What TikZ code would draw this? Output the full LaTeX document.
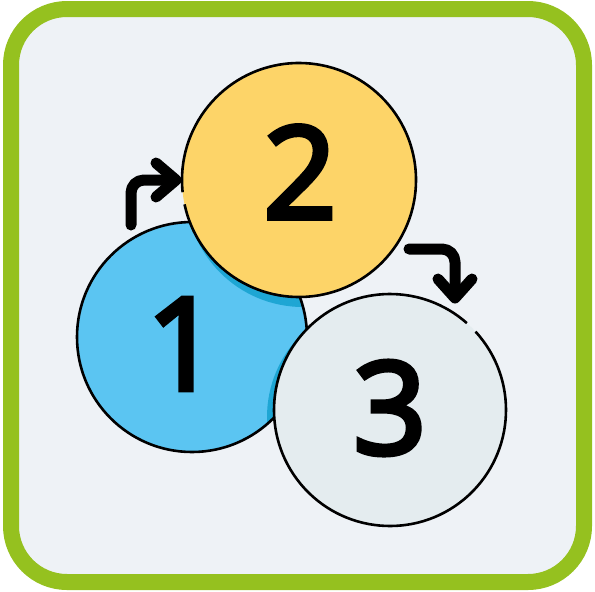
\documentclass[tikz,border=0pt]{standalone}
\usepackage{fontspec}
\usetikzlibrary{calc}
\newfontfamily\digitfont{Open Sans}[FakeBold=4]
\definecolor{frame}{HTML}{95C11F}
\definecolor{bg}{HTML}{EEF2F6}
\definecolor{cblue}{HTML}{5BC5F2}
\definecolor{cdblue}{HTML}{1EA6D4}
\definecolor{cyellow}{HTML}{FDD468}
\definecolor{cgray}{HTML}{E4ECEF}
\begin{document}
\begin{tikzpicture}[x=1pt,y=-1pt,
  ring/.style={draw=black,line width=2.6pt},
  digit/.style={font=\digitfont\fontsize{128}{128}\selectfont,inner sep=0pt},
  arrowline/.style={line width=11pt,line cap=round,line join=round,rounded corners=13pt},
  chev/.style={line width=11pt,line cap=round,line join=round}]
\useasboundingbox (0,0) rectangle (595,592);
% frame
\draw[frame,fill=bg,line width=16pt,rounded corners=56pt] (11,9) rectangle (584,582);
% centres
\coordinate (p1) at (192,337);
\coordinate (p2) at (299,180);
\coordinate (p3) at (390,410);
% circle 1
\node[circle,fill=cblue,minimum size=230pt,inner sep=0pt] (c1) at (p1) {};
\begin{scope}
  \clip (p1) circle[radius=115];
  \fill[cdblue] ($(p2)+(4,10)$) circle[radius=117];
  \fill[cdblue] ($(p3)+(-7,7)$) circle[radius=116];
\end{scope}
\draw[ring] (p1) circle[radius=115];
% circle 2
\node[circle,fill=cyellow,minimum size=234pt,inner sep=0pt] (c2) at (p2) {};
\draw[ring] (p2) ++(174:117) arc[start angle=174,end angle=528,radius=117];
% circle 3
\node[circle,fill=cgray,minimum size=232pt,inner sep=0pt] (c3) at (p3) {};
\draw[ring] (p3) ++(-42.5:116) arc[start angle=-42.5,end angle=311.5,radius=116];
% digits
\node[digit] (d1) at (183,344) {1};
\node[digit] (d2) at (300,172) {2};
\node[digit] (d3) at (390,408) {3};
% arrow 1
\coordinate (a1s) at (131,225);
\coordinate (a1e) at (170,180);
\coordinate (a1t) at (176,180);
\coordinate (a1u) at (156,163);
\coordinate (a1d) at (156,197);
\draw[arrowline] (a1s) |- (a1e);
\draw[chev] (a1u) -- (a1t) -- (a1d);
% arrow 2
\coordinate (a2s) at (409,249);
\coordinate (a2e) at (455,292);
\coordinate (a2t) at (455,298);
\coordinate (a2l) at (438,279);
\coordinate (a2r) at (472,279);
\draw[arrowline] (a2s) -| (a2e);
\draw[chev] (a2l) -- (a2t) -- (a2r);
\end{tikzpicture}
\end{document}
